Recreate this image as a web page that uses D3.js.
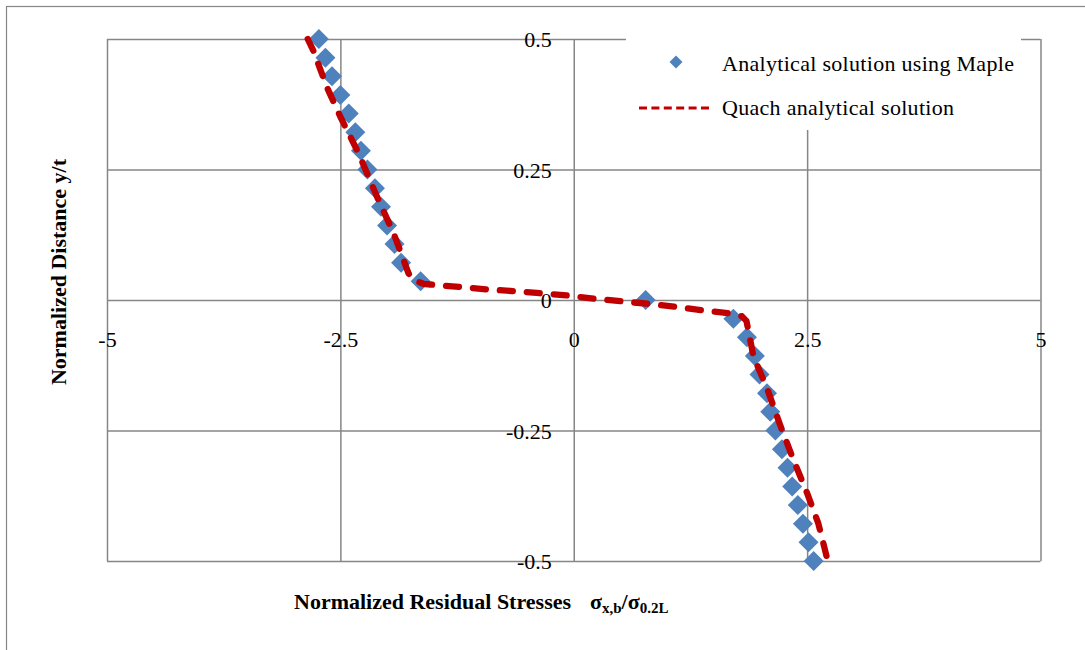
<!DOCTYPE html>
<html>
<head>
<meta charset="utf-8">
<script src="https://cdn.jsdelivr.net/npm/d3@7"></script>
<style>
  html, body { margin: 0; padding: 0; background: #fff; }
  svg { display: block; }
  text { font-family: "Liberation Serif", "Times New Roman", serif; fill: #000; }
</style>
</head>
<body>
<div id="chart"></div>
<script>
// Axis ticks and their labels
const xTickValues = [-5, -2.5, 0, 2.5, 5];
const xTickLabels = ["-5", "-2.5", "0", "2.5", "5"];
const yTickValues = [0.5, 0.25, 0, -0.25, -0.5];
const yTickLabels = ["0.5", "0.25", "0", "-0.25", "-0.5"];

// Analytical solution using Maple: normalized stress (x) at normalized distance (y)
const mapleStress = [
  -2.73, -2.66, -2.59, -2.50, -2.41, -2.34, -2.28, -2.21, -2.13, -2.065,
  -2.00, -1.92, -1.85, -1.64, 0.77,
  1.71, 1.855, 1.94, 1.99, 2.07, 2.105, 2.16, 2.23, 2.29, 2.34,
  2.40, 2.455, 2.515, 2.57
];
const mapleDistance = [
  0.5, 0.4643, 0.4286, 0.3929, 0.3571, 0.3214, 0.2857, 0.25, 0.2143, 0.1786,
  0.1429, 0.1071, 0.0714, 0.0357, 0,
  -0.0357, -0.0714, -0.1071, -0.1429, -0.1786, -0.2143, -0.25, -0.2857, -0.3214, -0.3571,
  -0.3929, -0.4286, -0.4643, -0.5
];

// Quach analytical solution
const quachStress = [
  -2.85, -2.787, -2.645, -2.50, -2.305, -2.108, -1.93, -1.77, -1.716, -1.61,
  -1.536, -1.183, -0.915, -0.626, -0.327, -0.07, 0.23, 0.498, 0.766, 1.087,
  1.373, 1.676, 1.80, 1.85, 1.925, 2.07, 2.21, 2.355, 2.50, 2.62,
  2.71, 2.725
];
const quachDistance = [
  0.5, 0.4765, 0.408, 0.351, 0.281, 0.198, 0.128, 0.051, 0.038, 0.031,
  0.0297, 0.0245, 0.0201, 0.0169, 0.0124, 0.0086, 0.0023, -0.0023, -0.0067, -0.013,
  -0.0195, -0.0259, -0.031, -0.040, -0.108, -0.169, -0.239, -0.307, -0.370, -0.428,
  -0.492, -0.5
];

const seriesNames = ["Analytical solution using Maple", "Quach analytical solution"];

const W = 1085, H = 650;
const plot = { left: 107, right: 1040.5, top: 39, bottom: 561 };
const gridColor = "#868686";
const blue = "#4F81BD";
const red = "#C00000";

const svg = d3.select("#chart").append("svg")
  .attr("width", W).attr("height", H);

// Outer chart frame
svg.append("rect")
  .attr("x", 6.5).attr("y", 6.5)
  .attr("width", 1200).attr("height", 800)
  .attr("fill", "#fff").attr("stroke", gridColor).attr("stroke-width", 1.2);

const x = d3.scaleLinear().domain([-5, 5]).range([plot.left, plot.right]);
const y = d3.scaleLinear().domain([-0.5, 0.5]).range([plot.bottom, plot.top]);

// Gridlines
const vGrid = svg.append("g")
  .attr("transform", `translate(0,${plot.bottom})`)
  .call(d3.axisBottom(x).tickValues(xTickValues).tickSize(-(plot.bottom - plot.top)).tickFormat(""));
const hGrid = svg.append("g")
  .attr("transform", `translate(${plot.left},0)`)
  .call(d3.axisLeft(y).tickValues(yTickValues).tickSize(-(plot.right - plot.left)).tickFormat(""));
[vGrid, hGrid].forEach(g => {
  g.select(".domain").remove();
  g.selectAll(".tick line").attr("stroke", gridColor).attr("stroke-width", 1.5);
});

// Tick labels along the zero axes
const xAxis = svg.append("g")
  .attr("transform", `translate(0,${y(0)})`)
  .call(d3.axisBottom(x).tickValues(xTickValues).tickSize(0)
    .tickFormat((d, i) => xTickLabels[i]));
xAxis.select(".domain").remove();
xAxis.selectAll("text")
  .attr("y", 47).attr("dy", null)
  .style("font-family", "'Liberation Serif', serif").style("font-size", "22px").attr("fill", "#000");

const yAxis = svg.append("g")
  .attr("transform", `translate(${x(0)},0)`)
  .call(d3.axisLeft(y).tickValues(yTickValues).tickSize(0).tickPadding(22)
    .tickFormat((d, i) => yTickLabels[i]));
yAxis.select(".domain").remove();
yAxis.selectAll("text")
  .attr("dy", "0.36em")
  .style("font-family", "'Liberation Serif', serif").style("font-size", "22px").attr("fill", "#000");

// Maple solution markers (diamonds)
const diamond = d3.symbol().type(d3.symbolSquare).size(200);
svg.append("g").selectAll("path")
  .data(mapleStress.map((v, i) => [v, mapleDistance[i]]))
  .join("path")
  .attr("d", diamond)
  .attr("fill", blue)
  .attr("transform", d => `translate(${x(d[0])},${y(d[1])}) rotate(45)`);

// Quach analytical solution (dashed), drawn over the markers
const quach = quachStress.map((v, i) => [v, quachDistance[i]]);
svg.append("path")
  .datum(quach)
  .attr("fill", "none")
  .attr("stroke", red)
  .attr("stroke-width", 6.3)
  .attr("stroke-linecap", "round")
  .attr("stroke-linejoin", "round")
  .attr("stroke-dasharray", "13,14")
  .attr("d", d3.line().x(d => x(d[0])).y(d => y(d[1])));

// Legend
const legend = svg.append("g");
legend.append("rect")
  .attr("x", 626).attr("y", 38).attr("width", 395).attr("height", 92)
  .attr("fill", "#fff");
legend.append("path")
  .attr("d", d3.symbol().type(d3.symbolSquare).size(85))
  .attr("fill", blue)
  .attr("transform", "translate(676,62) rotate(45)");
legend.append("line")
  .attr("x1", 639).attr("x2", 711).attr("y1", 108).attr("y2", 108)
  .attr("stroke", red).attr("stroke-width", 3.2)
  .attr("stroke-dasharray", "8,4.4");
legend.selectAll("text.leg")
  .data(seriesNames)
  .join("text")
  .attr("class", "leg")
  .attr("x", 722)
  .attr("y", (d, i) => [71, 115][i])
  .style("font-size", "22px")
  .style("letter-spacing", "0.3px")
  .text(d => d);

// Axis titles
const xt = svg.append("text")
  .attr("x", 294).attr("y", 609)
  .style("font-size", "22px").style("font-weight", "bold");
xt.append("tspan").text("Normalized Residual  Stresses");
const xs = svg.append("text")
  .attr("x", 590).attr("y", 609)
  .style("font-size", "22px").style("font-weight", "bold");
xs.append("tspan").text("σ");
xs.append("tspan").attr("dy", 4).style("font-size", "15px").text("x,b");
xs.append("tspan").attr("dy", -4).text("/σ");
xs.append("tspan").attr("dy", 4).style("font-size", "15px").text("0.2L");

svg.append("text")
  .attr("transform", "translate(66,272) rotate(-90)")
  .attr("text-anchor", "middle")
  .style("font-size", "22px").style("font-weight", "bold")
  .text("Normalized Distance y/t");
</script>
</body>
</html>
